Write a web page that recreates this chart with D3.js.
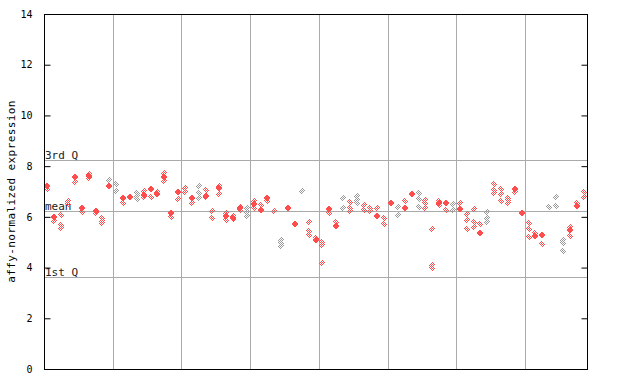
<!DOCTYPE html>
<html><head><meta charset="utf-8">
<script src="https://cdn.jsdelivr.net/npm/d3@7"></script>
<style>body{margin:0;background:#fff}svg{display:block}</style>
</head><body>
<script>
// ---- data ----
const yTicks = [0, 2, 4, 6, 8, 10, 12, 14];
const nSamples = 79;
const groupBreaks = [10, 20, 30, 40, 50, 60, 70];
const refLines = [
  {label: "3rd Q", value: 8.23},
  {label: "mean", value: 6.23},
  {label: "1st Q", value: 3.63}
];
// solid (strong) point per sample, null if none
const solidValues = [7.23, 5.98, null, null, 7.58, 6.36, 7.62, 6.23, null, 7.23,
  null, 6.76, 6.78, null, 6.86, 7.11, 6.9, 7.58, 6.14, 6.97,
  null, 6.76, null, 6.83, null, 7.13, 6.03, 5.97, 6.34, null,
  6.49, 6.27, 6.76, null, null, 6.34, 5.73, null, null, 5.07,
  null, 6.31, 5.65, null, null, null, null, null, 6.03, null,
  6.53, null, 6.36, 6.89, null, null, null, 6.56, 6.53, null,
  6.31, null, null, 5.36, null, null, null, null, 7.11, 6.14,
  null, 5.26, 5.3, null, null, null, 5.5, 6.42, null];
// lighter (dithered) points per sample
const lightValues = [
  [7.09], [5.84], [6.07, 5.68, 5.56], [6.62, 6.52], [7.39], [6.18], [7.68, 7.55], [6.17], [5.95, 5.85, 5.76], [7.45],
  [7.28, 7.03], [6.53], [], [6.95, 6.82, 6.69], [7.03, 6.77], [6.77], [6.98], [7.72, 7.43], [6.01], [6.69],
  [7.13, 7.0], [6.53], [7.22, 6.93, 6.76], [7.06, 6.78], [6.23, 5.94], [7.22, 6.92], [6.17, 5.88], [6.05, 5.9], [6.4, 6.27], [6.34, 6.18, 6.03],
  [6.63, 6.36], [6.45], [6.64], [6.23], [5.09, 4.97, 4.85], [], [], [7.01], [5.78, 5.45, 5.3], [5.18],
  [5.02, 4.9, 4.2], [6.17], [5.8], [6.73, 6.34], [6.57, 6.34, 6.24], [6.82, 6.66, 6.53], [6.45, 6.27], [6.34, 6.24], [6.34], [5.94, 5.71],
  [], [6.38, 6.06], [6.63], [], [6.93, 6.69, 6.38], [6.66, 6.53, 6.34], [5.52, 4.1, 3.97], [6.62, 6.48], [6.27], [6.51, 6.26],
  [6.56], [6.11, 5.88, 5.51], [6.3, 5.81, 5.61], [5.71], [6.19, 5.95, 5.81], [7.3, 7.06, 6.95], [7.09, 6.89, 6.63], [6.76, 6.66, 6.56], [6.99], [],
  [5.75, 5.51, 5.19], [5.38], [4.93], [6.4], [6.77, 6.43], [5.09, 4.96, 4.65], [5.6, 5.26], [6.53], [6.98, 6.8]
];
const graySamples = [9, 10, 13, 22, 29, 34, 37, 43, 45, 51, 54, 59, 64, 73, 74, 75];
const yLabel = "affy-normalized expression";

// ---- layout ----
const W = 640, H = 384;
const m = {left: 44, right: 53, top: 14, bottom: 15};
const svg = d3.select("body").append("svg").attr("width", W).attr("height", H);
const defs = svg.append("defs");
function checker(id, color) {
  const p = defs.append("pattern").attr("id", id).attr("patternUnits", "userSpaceOnUse")
    .attr("width", 2).attr("height", 2);
  p.append("rect").attr("x", 0).attr("y", 0).attr("width", 1).attr("height", 1).attr("fill", color);
  p.append("rect").attr("x", 1).attr("y", 1).attr("width", 1).attr("height", 1).attr("fill", color);
}
checker("chkRed", "#ff4d4d");
checker("chkGray", "#999999");

const x = d3.scaleLinear().domain([0, nSamples]).range([m.left, W - m.right]);
const y = d3.scaleLinear().domain([0, 14]).range([H - m.bottom, m.top]);
const font = "'DejaVu Sans Mono', monospace";

// vertical group separators
svg.append("g").selectAll("line").data(groupBreaks).join("line")
  .attr("x1", d => Math.round(x(d)) + 0.5).attr("x2", d => Math.round(x(d)) + 0.5)
  .attr("y1", y(14)).attr("y2", y(0))
  .attr("stroke", "#aaaaaa").attr("stroke-width", 1);

// reference lines
const rl = svg.append("g");
rl.selectAll("line").data(refLines).join("line")
  .attr("x1", x(0)).attr("x2", x(nSamples))
  .attr("y1", d => Math.round(y(d.value)) + 0.5).attr("y2", d => Math.round(y(d.value)) + 0.5)
  .attr("stroke", "#aaaaaa").attr("stroke-width", 1);
rl.selectAll("text").data(refLines).join("text")
  .attr("x", x(0) + 1).attr("y", d => Math.round(y(d.value)) - 1)
  .attr("font-family", font).attr("font-size", 11).attr("fill", "#222")
  .text(d => d.label);

// points
const diamond = (cx, cy, r) => `M${cx},${cy - r}L${cx + r},${cy}L${cx},${cy + r}L${cx - r},${cy}Z`;
const lightPts = [];
lightValues.forEach((vals, i) => vals.forEach(v => lightPts.push({i, v, gray: graySamples.includes(i)})));
const solidPts = [];
solidValues.forEach((v, i) => { if (v !== null) solidPts.push({i, v}); });

svg.append("g").selectAll("path").data(lightPts).join("path")
  .attr("d", d => diamond(Math.round(x(d.i + 0.5)), Math.round(y(d.v)), 3.5))
  .attr("fill", d => d.gray ? "url(#chkGray)" : "url(#chkRed)")
  .attr("shape-rendering", "crispEdges");
svg.append("g").selectAll("path").data(solidPts).join("path")
  .attr("d", d => diamond(Math.round(x(d.i + 0.5)), Math.round(y(d.v)), 3.5))
  .attr("fill", "#ff4d4d")
  .attr("shape-rendering", "crispEdges");

// frame
svg.append("rect").attr("x", x(0) + 0.5).attr("y", y(14) + 0.5)
  .attr("width", x(nSamples) - x(0)).attr("height", y(0) - y(14))
  .attr("fill", "none").attr("stroke", "#000").attr("stroke-width", 1);

// y axis (ticks inside) left
const yAxis = d3.axisLeft(y).tickValues(yTicks).tickSize(-6).tickPadding(12).tickFormat(d3.format("d"));
const ga = svg.append("g").attr("transform", `translate(${x(0) + 0.5},0)`).call(yAxis);
ga.select(".domain").remove();
ga.selectAll("text").attr("font-family", font).attr("font-size", 10).attr("fill", "#000");
ga.selectAll("line").attr("stroke", "#000");
// right ticks inside
const yAxisR = d3.axisRight(y).tickValues(yTicks).tickSize(-6).tickFormat("");
const gr = svg.append("g").attr("transform", `translate(${x(nSamples) + 0.5},0)`).call(yAxisR);
gr.select(".domain").remove();
gr.selectAll("line").attr("stroke", "#000");

// y label
svg.append("text")
  .attr("transform", `translate(15,${(y(0) + y(14)) / 2}) rotate(-90)`)
  .attr("text-anchor", "middle")
  .attr("font-family", font).attr("font-size", 11).attr("letter-spacing", 0.4).attr("fill", "#000")
  .text(yLabel);
</script>
</body></html>
